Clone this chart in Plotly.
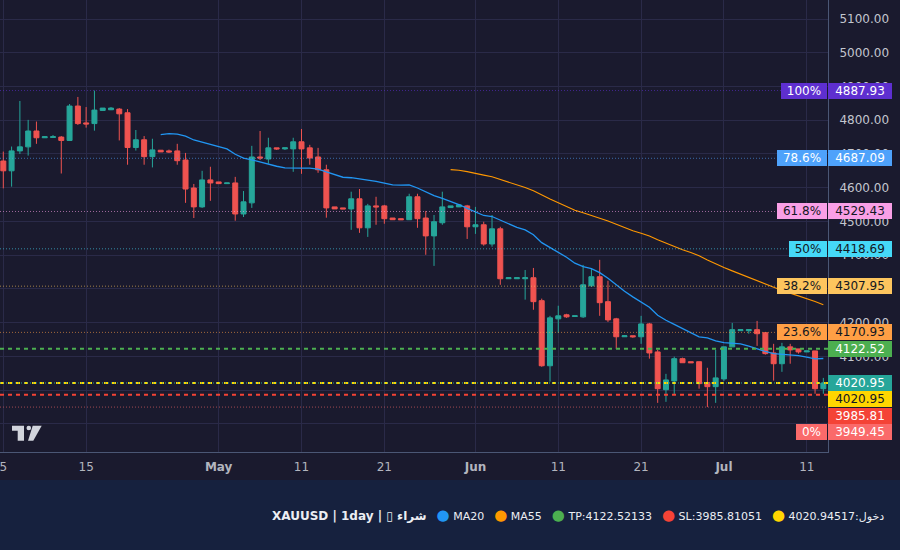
import pandas as pd
import plotly.graph_objects as go

# daily XAUUSD candles, 5 Apr - 13 Jul
dates = pd.date_range("2026-04-05", periods=100, freq="D")

opens = [4679, 4650, 4709, 4721, 4768, 4748, 4749, 4750, 4740, 4842,
         4792, 4790, 4829, 4831, 4833, 4822, 4719, 4742, 4692, 4711,
         4709, 4709, 4682, 4599, 4543, 4623, 4617, 4612, 4614, 4522,
         4555, 4691, 4685, 4718, 4715, 4715, 4736, 4718, 4691, 4653,
         4543, 4540, 4537, 4567, 4481, 4546, 4546, 4510, 4508, 4505,
         4573, 4510, 4457, 4496, 4541, 4543, 4546, 4484, 4490, 4433,
         4478, 4330, 4330, 4330, 4333, 4265, 4072, 4211, 4223, 4218,
         4217, 4309, 4336, 4262, 4211, 4158, 4161, 4158, 4196, 4113,
         4001, 4027, 4093, 4084, 4084, 4022, 4010, 4033, 4128, 4176,
         4176, 4179, 4170, 4110, 4078, 4128, 4122, 4113, 4116, 4004]

highs = [4707, 4722, 4857, 4801, 4796, 4753, 4756, 4753, 4848, 4869,
         4839, 4887.93, 4836, 4839, 4836, 4833, 4771, 4753, 4745, 4711,
         4713, 4730, 4703, 4611, 4650, 4662, 4617, 4614, 4632, 4590,
         4724, 4768, 4748, 4718, 4718, 4748, 4774, 4727, 4718, 4668,
         4543, 4540, 4588, 4596, 4552, 4573, 4549, 4510, 4508, 4582,
         4582, 4531, 4519, 4588, 4546, 4549, 4549, 4543, 4499, 4519,
         4484, 4333, 4333, 4356, 4362, 4271, 4220, 4250, 4226, 4220,
         4371, 4359, 4386, 4324, 4214, 4161, 4161, 4220, 4199, 4119,
         4048, 4099, 4096, 4084, 4084, 4066, 4119, 4128, 4199, 4179,
         4179, 4205, 4170, 4137, 4140, 4137, 4122, 4116, 4116, 4036]

lows = [4598, 4603, 4700, 4695, 4730, 4748, 4748, 4642, 4740, 4786,
        4778, 4769, 4828, 4830, 4740, 4668, 4710, 4668, 4660, 4706,
        4703, 4668, 4555, 4510, 4540, 4561, 4612, 4612, 4502, 4513,
        4540, 4682, 4671, 4712, 4712, 4647, 4641, 4668, 4644, 4511,
        4537, 4537, 4475, 4466, 4454, 4490, 4493, 4505, 4505, 4505,
        4481, 4401, 4368, 4490, 4541, 4543, 4448, 4463, 4428, 4425,
        4312, 4330, 4330, 4268, 4238, 4069, 4025, 4170, 4214, 4218,
        4214, 4306, 4220, 4202, 4122, 4158, 4155, 4137, 4093, 3962,
        3965, 3986, 4081, 4081, 4004, 3949.45, 3962, 4027, 4128, 4176,
        4167, 4131, 4105, 4028, 4054, 4078, 4108, 4113, 3989, 3989]

closes = [4650, 4709, 4721, 4768, 4748, 4751, 4751, 4740, 4842, 4790,
          4789, 4830, 4836, 4836, 4819, 4719, 4742, 4692, 4712, 4706,
          4706, 4680, 4596, 4543, 4623, 4614, 4612, 4614, 4522, 4558,
          4691, 4688, 4718, 4715, 4718, 4736, 4715, 4688, 4653, 4540,
          4537, 4537, 4567, 4481, 4546, 4543, 4508, 4505, 4505, 4573,
          4508, 4457, 4499, 4543, 4546, 4549, 4484, 4490, 4433, 4478,
          4330, 4333, 4333, 4333, 4262, 4072, 4214, 4220, 4217, 4220,
          4312, 4336, 4259, 4208, 4158, 4161, 4158, 4196, 4110, 4004,
          4030, 4093, 4081, 4081, 4019, 4010, 4036, 4128, 4179, 4179,
          4179, 4167, 4108, 4078, 4128, 4119, 4113, 4116, 4004, 4020.95]

# fibonacci retracement levels
fib_pcts = ["100%", "78.6%", "61.8%", "50%", "38.2%", "23.6%", "0%"]
fib_prices = [4887.93, 4687.09, 4529.43, 4418.69, 4307.95, 4170.93, 3949.45]

# trade levels
tp_price = 4122.52133
sl_price = 3985.81051
entry_price = 4020.94517

# x axis ticks
tick_dates = ["2026-04-05", "2026-04-15", "2026-05-01", "2026-05-11", "2026-05-21",
              "2026-06-01", "2026-06-11", "2026-06-21", "2026-07-01", "2026-07-11"]
tick_text = ["5", "15", "<b>May</b>", "11", "21", "<b>Jun</b>", "11", "21", "<b>Jul</b>", "11"]

# legend strip (the icon shows as an empty box in the original)
title_text = "XAUUSD | 1day | ▯ شراء"
legend_labels = ["MA20", "MA55", "TP:4122.52133", "SL:3985.81051", "دخول:4020.94517"]

# styles
BG = "#1a1a2e"
STRIP = "#16213e"
GRID = "#2a2a48"
AXIS = "#4b5775"
UP = "#26a69a"
DOWN = "#ef5350"
fib_bg = ["#5e2fd0", "#4ea2fb", "#f99fe6", "#45d9f7", "#fdc55e", "#ff9f45", "#fa6a6a"]
fib_fg = ["#ffffff", "#ffffff", "#131722", "#131722", "#131722", "#131722", "#ffffff"]
fib_w = [46, 50, 50, 38, 50, 50, 31]
legend_colors = ["#2196f3", "#ff9800", "#4caf50", "#f44336", "#ffd600"]

Y0, Y1 = 3816.3, 5156.4
PW, PH = 828, 452

df = pd.DataFrame({"time": dates, "open": opens, "high": highs, "low": lows, "close": closes})
df["ma20"] = df["close"].rolling(20).mean()
df["ma55"] = df["close"].rolling(55).mean()

fig = go.Figure()
fig.add_trace(go.Candlestick(x=df["time"], open=df["open"], high=df["high"], low=df["low"],
                             close=df["close"],
                             increasing=dict(line=dict(color=UP, width=1), fillcolor=UP),
                             decreasing=dict(line=dict(color=DOWN, width=1), fillcolor=DOWN)))
fig.add_trace(go.Scatter(x=df["time"], y=df["ma20"], mode="lines",
                         line=dict(color="#2196f3", width=1.3)))
fig.add_trace(go.Scatter(x=df["time"], y=df["ma55"], mode="lines",
                         line=dict(color="#ff9800", width=1.1)))


def paper(x, y):
    # pixel position inside the plot area -> paper coords
    return x / PW, 1 - y / PH


def ypx(p):
    return (Y1 - p) / (Y1 - Y0) * PH


# fib lines
for price, col in zip(fib_prices, fib_bg):
    fig.add_shape(type="line", xref="paper", x0=0, x1=1, yref="y", y0=price, y1=price,
                  line=dict(color=col, width=1, dash="1px,2px"), opacity=0.6)

# trade lines
fig.add_shape(type="line", xref="paper", x0=0, x1=1, yref="y", y0=tp_price, y1=tp_price,
              line=dict(color="#4caf50", width=2, dash="4px,4px"))
fig.add_shape(type="line", xref="paper", x0=0, x1=1, yref="y", y0=sl_price, y1=sl_price,
              line=dict(color="#f44336", width=2, dash="4px,4px"))
fig.add_shape(type="line", xref="paper", x0=0, x1=1, yref="y", y0=entry_price, y1=entry_price,
              line=dict(color="#ffd600", width=2, dash="4px,4px"))
fig.add_shape(type="line", xref="paper", x0=0, x1=1, yref="y", y0=closes[-1], y1=closes[-1],
              line=dict(color=UP, width=1, dash="1px,2px"))

# right side price labels, stacked like tradingview does
labels = []
for pct, price, bg, fg, w in zip(fib_pcts, fib_prices, fib_bg, fib_fg, fib_w):
    labels.append(dict(price=price, text=f"{price:.2f}", bg=bg, fg=fg, pct=pct, w=w))
labels.append(dict(price=tp_price, text=f"{tp_price:.2f}", bg="#4caf50", fg="#ffffff"))
labels.append(dict(price=closes[-1], text=f"{closes[-1]:.2f}", bg=UP, fg="#ffffff"))
labels.append(dict(price=entry_price, text=f"{entry_price:.2f}", bg="#ffd600", fg="#131722"))
labels.append(dict(price=sl_price, text=f"{sl_price:.2f}", bg="#f44336", fg="#ffffff"))
labels.sort(key=lambda d: -d["price"])

last_y = -100
for lab in labels:
    natural = ypx(lab["price"])
    placed = max(natural, last_y + 16.5)
    last_y = placed
    shift = natural - placed
    fig.add_annotation(xref="paper", x=1, xanchor="left", yref="y", y=lab["price"], yshift=shift,
                       text=lab["text"], showarrow=False, bgcolor=lab["bg"], width=64, height=16,
                       borderpad=0, borderwidth=0, font=dict(color=lab["fg"], size=12))
    if "pct" in lab:
        fig.add_annotation(xref="paper", x=1, xanchor="right", xshift=-1.5, yref="y", y=lab["price"],
                           yshift=shift, text=lab["pct"], showarrow=False, bgcolor=lab["bg"],
                           width=lab["w"], height=16, borderpad=0, borderwidth=0,
                           font=dict(color=lab["fg"], size=12))

# bottom strip
fig.add_shape(type="rect", xref="paper", yref="paper", x0=-0.01, x1=900 / PW + 0.01,
              y0=1 - 550 / PH - 0.01, y1=1 - 480 / PH, fillcolor=STRIP, line_width=0, layer="below")

legend_text = f"<b>{title_text}</b>"
for lbl, col in zip(legend_labels, legend_colors):
    legend_text += (f"  \u2009<span style='color:{col};font-size:15px'>●</span>"
                    f"<span style='font-size:11px'> {lbl}</span>")
fig.add_annotation(xref="paper", yref="paper", x=886 / PW, y=1 - 515 / PH, xanchor="right",
                   yanchor="middle", text=legend_text, showarrow=False,
                   font=dict(color="#eceef3", size=12))

# tradingview logo
logo = "#d1d4dc"
pts = [paper(12, 425.7), paper(24, 425.7), paper(24, 440.7), paper(17.7, 440.7),
       paper(17.7, 430.7), paper(12, 430.7)]
fig.add_shape(type="path", xref="paper", yref="paper", fillcolor=logo, line_width=0,
              path="M " + " L ".join(f"{a},{b}" for a, b in pts) + " Z")
pts = [paper(32.7, 425.7), paper(41.7, 425.7), paper(33.3, 440.7), paper(28, 440.7)]
fig.add_shape(type="path", xref="paper", yref="paper", fillcolor=logo, line_width=0,
              path="M " + " L ".join(f"{a},{b}" for a, b in pts) + " Z")
cx0, cy0 = paper(26.5, 425.7)
cx1, cy1 = paper(31.1, 430.3)
fig.add_shape(type="circle", xref="paper", yref="paper", x0=cx0, x1=cx1, y0=cy0, y1=cy1,
              fillcolor=logo, line_width=0)

fig.update_layout(
    width=900, height=550,
    margin=dict(l=0, r=72, t=0, b=98),
    paper_bgcolor=BG, plot_bgcolor=BG,
    font=dict(family="DejaVu Sans", size=12, color="#c3c6ce"),
    showlegend=False, hovermode=False,
    boxgap=0.4, boxgroupgap=0,
)
fig.update_xaxes(type="date", range=["2026-04-04 14:24", "2026-07-13 13:30"],
                 tickvals=tick_dates, ticktext=tick_text,
                 showgrid=True, gridcolor=GRID, gridwidth=1,
                 showline=True, linecolor=AXIS, linewidth=1,
                 ticks="outside", ticklen=4, tickcolor=BG,
                 tickfont=dict(color="#b2b5be", size=12), ticklabeloverflow="allow",
                 rangeslider=dict(visible=False), zeroline=False)
fig.update_yaxes(range=[Y0, Y1], side="right", dtick=100, tick0=0, tickformat=".2f",
                 showgrid=True, gridcolor=GRID, gridwidth=1,
                 showline=True, linecolor=AXIS, linewidth=1,
                 ticks="outside", ticklen=8, tickcolor=BG,
                 tickfont=dict(color="#c3c6ce", size=12), zeroline=False)

# no page margin around the figure, no modebar
fig.write_html("out.html", config={"displayModeBar": False},
               post_script="document.body.style.margin='0';")
